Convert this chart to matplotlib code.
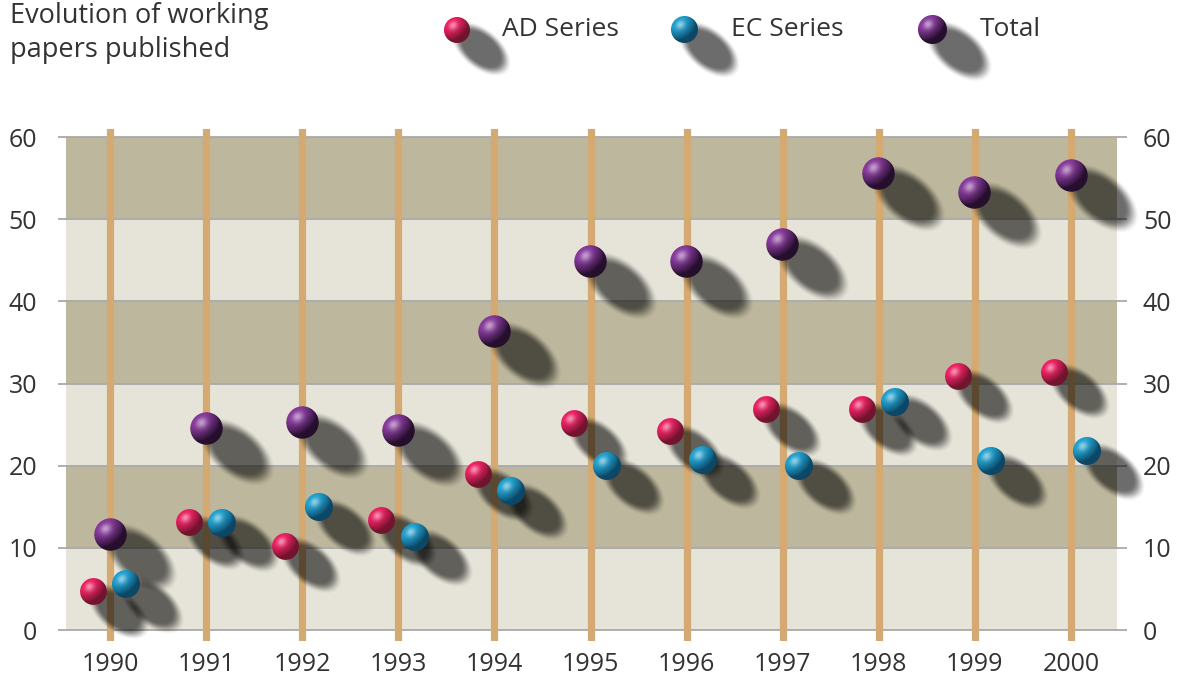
import numpy as np
import matplotlib.pyplot as plt
from matplotlib.offsetbox import OffsetImage, AnnotationBbox

# ---------------- Data ----------------
years = [1990, 1991, 1992, 1993, 1994, 1995, 1996, 1997, 1998, 1999, 2000]
ad_series = [4.7, 13.1, 10.2, 13.3, 18.9, 25.1, 24.1, 26.8, 26.8, 30.8, 31.4]
ec_series = [5.6, 13.0, 15.0, 11.3, 16.9, 20.0, 20.7, 20.0, 27.7, 20.6, 21.8]
total = [11.6, 24.5, 25.3, 24.3, 36.3, 44.8, 44.8, 46.9, 55.5, 53.3, 55.3]
yticks = [0, 10, 20, 30, 40, 50, 60]

plt.rcParams['font.family'] = ['Open Sans', 'DejaVu Sans']
TEXT = '#333333'

# ---------------- Sprite helpers ----------------

def sphere_sprite(r, base, dark, ss=4):
    n = int(np.ceil(2 * r + 2))
    c = n / 2
    g = (np.arange(n * ss) + 0.5) / ss
    x, y = np.meshgrid(g, g)
    dx, dy = (x - c) / r, (y - c) / r
    d2 = dx ** 2 + dy ** 2
    inside = d2 <= 1
    nz = np.sqrt(np.clip(1 - d2, 0, 1))
    L = np.array([-0.55, -0.65, 0.55])
    L = L / np.linalg.norm(L)
    diff = np.clip(dx * L[0] + dy * L[1] + nz * L[2], 0, 1)
    H = L + np.array([0, 0, 1.0])
    H = H / np.linalg.norm(H)
    spec = np.clip(dx * H[0] + dy * H[1] + nz * H[2], 0, 1) ** 16
    base = np.array(base)
    dark = np.array(dark)
    t = diff[..., None] ** 0.9
    col = dark + (base - dark) * np.clip(t * 1.15, 0, 1)
    col = col + (1 - col) * (0.5 * spec[..., None])
    rgba = np.zeros((n * ss, n * ss, 4))
    rgba[..., :3] = col
    rgba[..., 3] = inside
    rgba = rgba.reshape(n, ss, n, ss, 4)
    a = rgba[..., 3].mean(axis=(1, 3))
    rgb = (rgba[..., :3] * rgba[..., 3:4]).sum(axis=(1, 3)) / np.maximum(
        rgba[..., 3:4].sum(axis=(1, 3)), 1e-9)
    return np.dstack([rgb, a]), (c, c)


def shadow_sprite(r, strength=0.58):
    lo, hi = -2.0 * r, 5.8 * r
    n = int(np.ceil(hi - lo))
    g = np.arange(n) + 0.5 + lo
    x, y = np.meshgrid(g, g)
    ox, oy = 1.85 * r, 1.45 * r
    th = np.deg2rad(40)
    u = (x - ox) * np.cos(th) + (y - oy) * np.sin(th)
    v = -(x - ox) * np.sin(th) + (y - oy) * np.cos(th)
    q = np.sqrt((u / (2.5 * r)) ** 2 + (v / (1.4 * r)) ** 2)
    t = np.clip((1.12 - q) / 0.45, 0, 1)
    t = t * t * (3 - 2 * t)
    rgba = np.zeros((n, n, 4))
    rgba[..., 3] = strength * t
    return rgba, (-lo, -lo)


COLORS = {
    'ad': ((0.92, 0.12, 0.38), (0.45, 0.08, 0.18)),
    'ec': ((0.12, 0.62, 0.80), (0.05, 0.28, 0.40)),
    'tot': ((0.52, 0.22, 0.60), (0.15, 0.06, 0.18)),
}


def place(ax, img, center, xy, zorder, coords='data'):
    h, w = img.shape[:2]
    ab = AnnotationBbox(OffsetImage(img, zoom=1, dpi_cor=False), xy,
                        xycoords=coords, frameon=False, pad=0,
                        box_alignment=(center[0] / w, 1 - center[1] / h),
                        annotation_clip=False, zorder=zorder)
    ax.add_artist(ab)


def ball(ax, x, y, r, key, coords='data'):
    sh, shc = shadow_sprite(r)
    place(ax, sh, shc, (x, y), 3, coords)
    sp, spc = sphere_sprite(r, *COLORS[key])
    place(ax, sp, spc, (x, y), 5, coords)


# ---------------- Figure ----------------
fig = plt.figure(figsize=(11.88, 6.8), dpi=100)
ax = fig.add_axes([58 / 1188, 1 - 640.7 / 680, 1069 / 1188, 511.9 / 680])
ax.set_xlim(1990 - 52 / 96.1, 2000 + 56 / 96.1)
ax.set_ylim(-1.3, 61)

band_x = [1990 - 44 / 96.1, 2000 + 46 / 96.1]
for lo in range(0, 60, 10):
    col = '#bdb79d' if (lo // 10) % 2 else '#e6e4d8'
    ax.fill_between(band_x, lo, lo + 10, color=col, lw=0, zorder=0)
for t in yticks:
    ax.axhline(t, color='#a9a9a9', lw=1.3, zorder=1)
for yr in years:
    ax.axvline(yr, color='#d4aa72', lw=5.2, zorder=2)

off = 0.17
for i, yr in enumerate(years):
    ball(ax, yr - off, ad_series[i], 13.4, 'ad')
    ball(ax, yr + off, ec_series[i], 14.0, 'ec')
    ball(ax, yr, total[i], 16.2, 'tot')

for s in ax.spines.values():
    s.set_visible(False)
ax.set_xticks(years)
ax.set_xticklabels([str(y) for y in years])
ax.set_yticks(yticks)
ax.tick_params(axis='x', length=0, pad=8, labelsize=18, colors=TEXT)
ax.tick_params(axis='y', length=0, pad=15, labelsize=18, colors=TEXT)

# right-hand copy of the value axis
ax2 = ax.twinx()
ax2.set_ylim(ax.get_ylim())
ax2.set_yticks(yticks)
ax2.tick_params(axis='y', length=0, pad=11.5, labelsize=18, colors=TEXT)
for s in ax2.spines.values():
    s.set_visible(False)

# title
fig.text(10 / 1188, 1 - 2 / 680, 'Evolution of working\npapers published',
         ha='left', va='top', fontsize=19.5, color=TEXT, linespacing=1.28)

# legend
legend = [(457, 'ad', 13.0, 'AD Series', 502),
          (684, 'ec', 13.5, 'EC Series', 731),
          (932, 'tot', 14.5, 'Total', 980)]
for bx, key, r, lab, tx in legend:
    ball(ax, bx, 680 - 30, r, key, coords='figure pixels')
    fig.text(tx / 1188, 1 - 29 / 680, lab, ha='left', va='center',
             fontsize=19, color=TEXT)

fig.savefig('out.png', dpi=100)
